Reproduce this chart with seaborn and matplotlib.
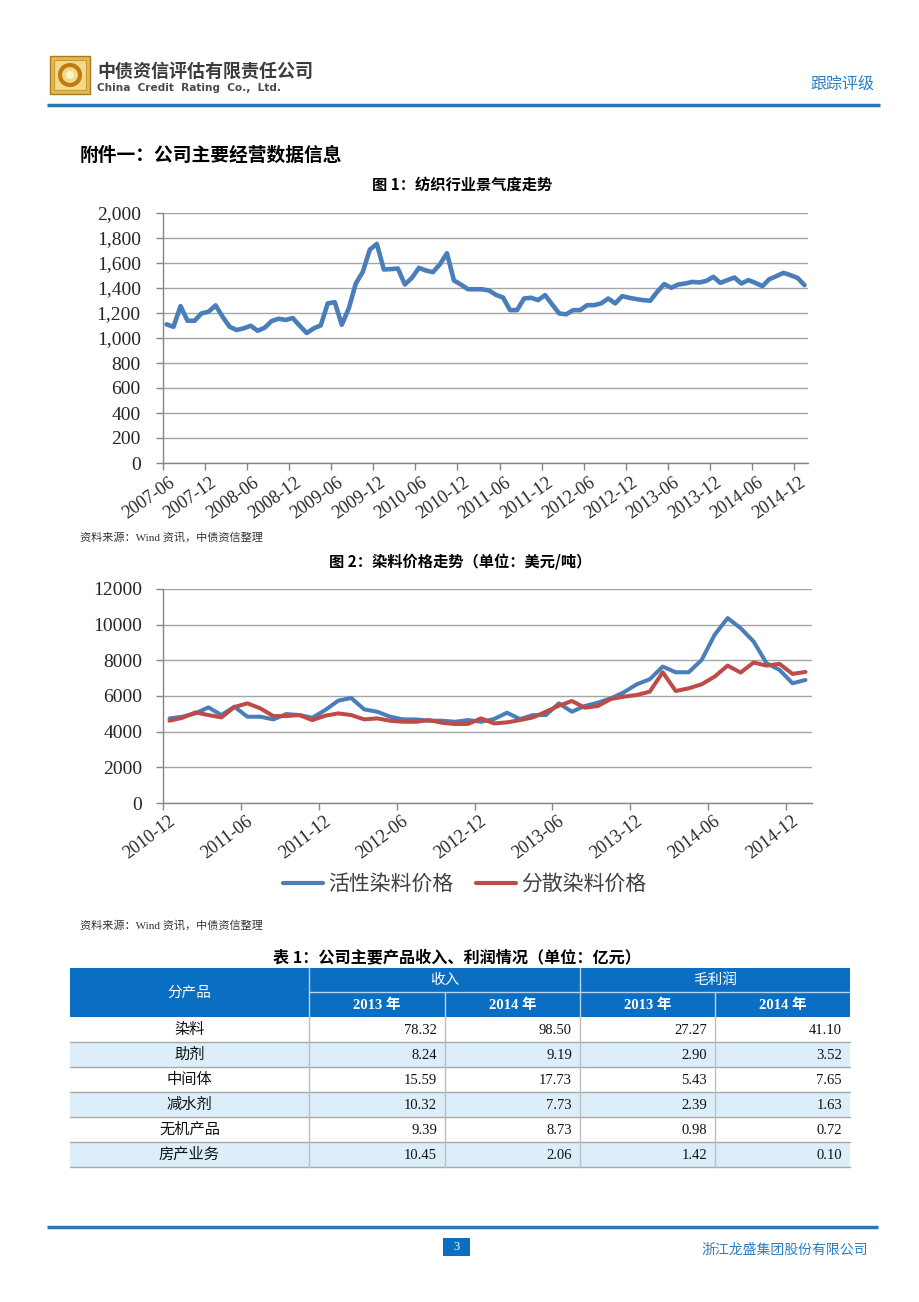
import numpy as np
import pandas as pd
import matplotlib
matplotlib.use("Agg")
import matplotlib.pyplot as plt
import seaborn as sns
from matplotlib.patches import Rectangle, Circle
from matplotlib.lines import Line2D

# ---------------- data ----------------
textile_index = [1109, 1090, 1255, 1138, 1138, 1197, 1210, 1261, 1170, 1090,
                 1064, 1077, 1098, 1058, 1082, 1136, 1154, 1144, 1160, 1098,
                 1040, 1077, 1101, 1277, 1287, 1106, 1237, 1436, 1529, 1707,
                 1753, 1548, 1551, 1556, 1428, 1481, 1561, 1540, 1527, 1590,
                 1678, 1460, 1427, 1390, 1390, 1390, 1380, 1345, 1324, 1223,
                 1223, 1316, 1322, 1303, 1343, 1269, 1197, 1189, 1223, 1223,
                 1263, 1263, 1277, 1316, 1277, 1335, 1322, 1311, 1303, 1298,
                 1370, 1431, 1402, 1428, 1436, 1449, 1444, 1457, 1489, 1441,
                 1463, 1484, 1436, 1463, 1441, 1415, 1471, 1495, 1521, 1503,
                 1481, 1423]
textile_ticks = ["2007-06", "2007-12", "2008-06", "2008-12", "2009-06", "2009-12",
                 "2010-06", "2010-12", "2011-06", "2011-12", "2012-06", "2012-12",
                 "2013-06", "2013-12", "2014-06", "2014-12"]
textile_yticks = [0, 200, 400, 600, 800, 1000, 1200, 1400, 1600, 1800, 2000]

reactive = [4744, 4838, 5025, 5363, 4931, 5400, 4838, 4838, 4688, 4988,
            4931, 4781, 5213, 5738, 5888, 5250, 5119, 4838, 4688, 4688,
            4613, 4613, 4556, 4650, 4556, 4706, 5063, 4706, 4931, 4931,
            5588, 5119, 5438, 5625, 5869, 6206, 6656, 6938, 7650, 7331,
            7331, 8025, 9431, 10369, 9806, 9056, 7838, 7463, 6713, 6900]
disperse = [4613, 4781, 5081, 4931, 4800, 5381, 5588, 5306, 4875, 4875,
            4931, 4650, 4894, 5025, 4931, 4688, 4744, 4613, 4556, 4556,
            4650, 4500, 4425, 4435, 4744, 4463, 4519, 4650, 4800, 5119,
            5456, 5719, 5344, 5438, 5831, 5963, 6056, 6244, 7331, 6281,
            6431, 6656, 7088, 7706, 7313, 7875, 7706, 7800, 7238, 7350]
dye_series = ["活性染料价格", "分散染料价格"]
dye_ticks = ["2010-12", "2011-06", "2011-12", "2012-06", "2012-12",
             "2013-06", "2013-12", "2014-06", "2014-12"]
dye_yticks = [0, 2000, 4000, 6000, 8000, 10000, 12000]

products = ["染料", "助剂", "中间体", "减水剂", "无机产品", "房产业务"]
rev_2013 = ["78.32", "8.24", "15.59", "10.32", "9.39", "10.45"]
rev_2014 = ["98.50", "9.19", "17.73", "7.73", "8.73", "2.06"]
gp_2013 = ["27.27", "2.90", "5.43", "2.39", "0.98", "1.42"]
gp_2014 = ["41.10", "3.52", "7.65", "1.63", "0.72", "0.10"]

# ---------------- style ----------------
sns.set_theme(style="white")
plt.rcParams['font.family'] = ['Noto Sans CJK SC', 'DejaVu Sans']

CJK = ['Noto Sans CJK SC', 'DejaVu Sans']
SERIF = ['Liberation Serif', 'Noto Sans CJK SC']
BLUE = "#4a7ebb"
RED = "#be4b48"
PAGE_BLUE = "#2e75b6"
HEAD_BLUE = "#0a6fc2"
GRID = "#a6a6a6"
AXC = "#868686"

W, H = 920, 1302
fig = plt.figure(figsize=(W / 100, H / 100), dpi=100)
fig.patch.set_facecolor("white")

page = fig.add_axes([0, 0, 1, 1])
page.set_xlim(0, W)
page.set_ylim(H, 0)
page.axis("off")


def ax_px(l, t, r, b):
    a = fig.add_axes([l / W, 1 - b / H, (r - l) / W, (b - t) / H])
    a.patch.set_alpha(0)
    return a


# ---------------- page header ----------------
page.add_patch(Rectangle((50, 56), 40, 38, facecolor="#e6b94f", edgecolor="#a87b22", lw=1))
page.add_patch(Rectangle((54, 60), 32, 30, facecolor="#f3d98c", edgecolor="#c99a3a", lw=0.8))
page.add_patch(Circle((70, 75), 10, facecolor="none", edgecolor="#c07a10", lw=3))
page.add_patch(Circle((70, 75), 4, facecolor="#fff3c9", edgecolor="none"))
page.text(97, 71, "中债资信评估有限责任公司", family=CJK, fontsize=13, weight="bold",
          color="#3b3b3b", ha="left", va="center")
page.text(97, 88, "China  Credit  Rating  Co.,  Ltd.", family=['DejaVu Sans'], fontsize=7.6,
          weight="bold", color="#4a4a4a", ha="left", va="center")
page.text(874, 84, "跟踪评级", family=CJK, fontsize=11.5, color="#2a7fc4", ha="right", va="center")
page.plot([47, 880], [105, 105], color=PAGE_BLUE, lw=2.5, solid_capstyle="butt")

page.text(80, 155, "附件一：公司主要经营数据信息", family=CJK, fontsize=13.5, weight="bold",
          color="black", ha="left", va="center")
page.text(462, 185, "图 1：纺织行业景气度走势", family=CJK, fontsize=11, weight="bold",
          color="black", ha="center", va="center")
page.text(80, 537, "资料来源：Wind 资讯，中债资信整理", family=SERIF, fontsize=8,
          color="#333333", ha="left", va="center")
page.text(460, 562, "图 2：染料价格走势（单位：美元/吨）", family=CJK, fontsize=11, weight="bold",
          color="black", ha="center", va="center")
page.text(80, 925, "资料来源：Wind 资讯，中债资信整理", family=SERIF, fontsize=8,
          color="#333333", ha="left", va="center")
page.text(457, 957, "表 1：公司主要产品收入、利润情况（单位：亿元）", family=CJK, fontsize=11.6,
          weight="bold", color="black", ha="center", va="center")


def style_axes(a, ypad, xpad):
    for s in ["top", "right"]:
        a.spines[s].set_visible(False)
    for s in ["left", "bottom"]:
        a.spines[s].set_color(AXC)
        a.spines[s].set_linewidth(1)
    a.yaxis.grid(True, color=GRID, lw=1)
    a.xaxis.grid(False)
    a.set_axisbelow(True)
    a.tick_params(axis="both", which="both", bottom=True, left=True, direction="out",
                  length=5, width=1, color=AXC, labelcolor="#262626")
    a.tick_params(axis="y", pad=ypad)
    a.tick_params(axis="x", pad=xpad)
    a.set_xlabel("")
    a.set_ylabel("")


# ---------------- chart 1 ----------------
df1 = pd.DataFrame({"idx": np.arange(len(textile_index)) + 0.5, "value": textile_index})
ax1 = ax_px(163, 213, 808, 463)
sns.lineplot(data=df1, x="idx", y="value", ax=ax1, color=BLUE, lw=3.3)
ax1.set_xlim(0, len(textile_index))
ax1.set_ylim(0, 2000)
ax1.set_yticks(textile_yticks)
ax1.set_yticklabels([f"{v:,}" for v in textile_yticks], family=SERIF, fontsize=14)
ax1.set_xticks(np.arange(len(textile_ticks)) * 6)
ax1.set_xticklabels(textile_ticks, rotation=35, ha="right", va="top",
                    rotation_mode="anchor", family=SERIF, fontsize=13)
style_axes(ax1, 11, 3)
for lab in ax1.get_xticklabels():
    lab.set_x(lab.get_position()[0])
offset = matplotlib.transforms.ScaledTranslation(5 / 100, 0, fig.dpi_scale_trans)
for lab in ax1.get_xticklabels():
    lab.set_transform(lab.get_transform() + offset)

# ---------------- chart 2 ----------------
n2 = len(reactive)
df2 = pd.DataFrame({
    "idx": np.r_[np.arange(n2), np.arange(n2)] + 0.5,
    "price": reactive + disperse,
    "series": [dye_series[0]] * n2 + [dye_series[1]] * n2,
})
ax2 = ax_px(163, 589, 812, 803)
sns.lineplot(data=df2, x="idx", y="price", hue="series", hue_order=dye_series,
             palette={dye_series[0]: BLUE, dye_series[1]: RED}, lw=2.9, ax=ax2)
ax2.set_xlim(0, n2)
ax2.set_ylim(0, 12000)
ax2.set_yticks(dye_yticks)
ax2.set_yticklabels([str(v) for v in dye_yticks], family=SERIF, fontsize=14)
ax2.set_xticks(np.arange(len(dye_ticks)) * 6)
ax2.set_xticklabels(dye_ticks, rotation=37, ha="right", va="top",
                    rotation_mode="anchor", family=SERIF, fontsize=13)
style_axes(ax2, 10, 2)
for lab in ax2.get_xticklabels():
    lab.set_transform(lab.get_transform() + offset)
ax2.get_legend().remove()
handles = [Line2D([0], [0], color=BLUE, lw=3), Line2D([0], [0], color=RED, lw=3)]
fig.legend(handles, dye_series, loc="center", bbox_to_anchor=(465 / W, 1 - 884 / H),
           ncol=2, frameon=False, prop={"family": CJK, "size": 15},
           handlelength=1.9, handletextpad=0.25, columnspacing=1.1, labelcolor="#404040")

# ---------------- table ----------------
col_edges = [70, 309, 445, 580, 715, 850]
y_h1, y_h2, y_d = 968, 992, 1017
row_h = 25
page.add_patch(Rectangle((col_edges[0], y_h1), col_edges[-1] - col_edges[0], y_d - y_h1,
                         facecolor=HEAD_BLUE, edgecolor="none"))
sep = "#b9d3ec"
page.plot([col_edges[1]] * 2, [y_h1, y_d], color=sep, lw=1)
page.plot([col_edges[3]] * 2, [y_h1, y_d], color=sep, lw=1)
page.plot([col_edges[2]] * 2, [y_h2, y_d], color=sep, lw=1)
page.plot([col_edges[4]] * 2, [y_h2, y_d], color=sep, lw=1)
page.plot([col_edges[1], col_edges[-1]], [y_h2, y_h2], color=sep, lw=1)

page.text((col_edges[0] + col_edges[1]) / 2, (y_h1 + y_d) / 2, "分产品", family=CJK,
          fontsize=10.5, color="white", ha="center", va="center")
page.text((col_edges[1] + col_edges[3]) / 2, (y_h1 + y_h2) / 2, "收入", family=CJK,
          fontsize=10.5, color="white", ha="center", va="center")
page.text((col_edges[3] + col_edges[5]) / 2, (y_h1 + y_h2) / 2, "毛利润", family=CJK,
          fontsize=10.5, color="white", ha="center", va="center")
for i, yr in enumerate(["2013 年", "2014 年", "2013 年", "2014 年"]):
    page.text((col_edges[i + 1] + col_edges[i + 2]) / 2, (y_h2 + y_d) / 2 + 1, yr,
              family=SERIF, fontsize=10.5, weight="bold", color="white",
              ha="center", va="center")

cols = [rev_2013, rev_2014, gp_2013, gp_2014]
for r, name in enumerate(products):
    top = y_d + r * row_h
    if r % 2 == 1:
        page.add_patch(Rectangle((col_edges[0], top), col_edges[-1] - col_edges[0], row_h,
                                 facecolor="#dbeef9", edgecolor="none"))
    page.text((col_edges[0] + col_edges[1]) / 2, top + row_h / 2, name, family=CJK,
              fontsize=11, color="#111111", ha="center", va="center")
    for c, vals in enumerate(cols):
        page.text(col_edges[c + 2] - 8, top + row_h / 2 + 1, vals[r], family=SERIF,
                  fontsize=10.5, color="#111111", ha="right", va="center")
    page.plot([col_edges[0], col_edges[-1]], [top + row_h] * 2, color="#a8a8a8", lw=1)
for x in col_edges[1:-1]:
    page.plot([x, x], [y_d, y_d + row_h * len(products)], color="#bfbfbf", lw=1)

# ---------------- footer ----------------
page.plot([47, 878], [1227, 1227], color=PAGE_BLUE, lw=2.5, solid_capstyle="butt")
page.add_patch(Rectangle((443, 1238), 27, 18, facecolor=HEAD_BLUE, edgecolor="none"))
page.text(456.5, 1247, "3", family=SERIF, fontsize=9, color="white", ha="center", va="center")
page.text(868, 1250, "浙江龙盛集团股份有限公司", family=CJK, fontsize=10, color="#2a7fc4",
          ha="right", va="center")

fig.savefig("out.png", dpi=100, facecolor="white")
